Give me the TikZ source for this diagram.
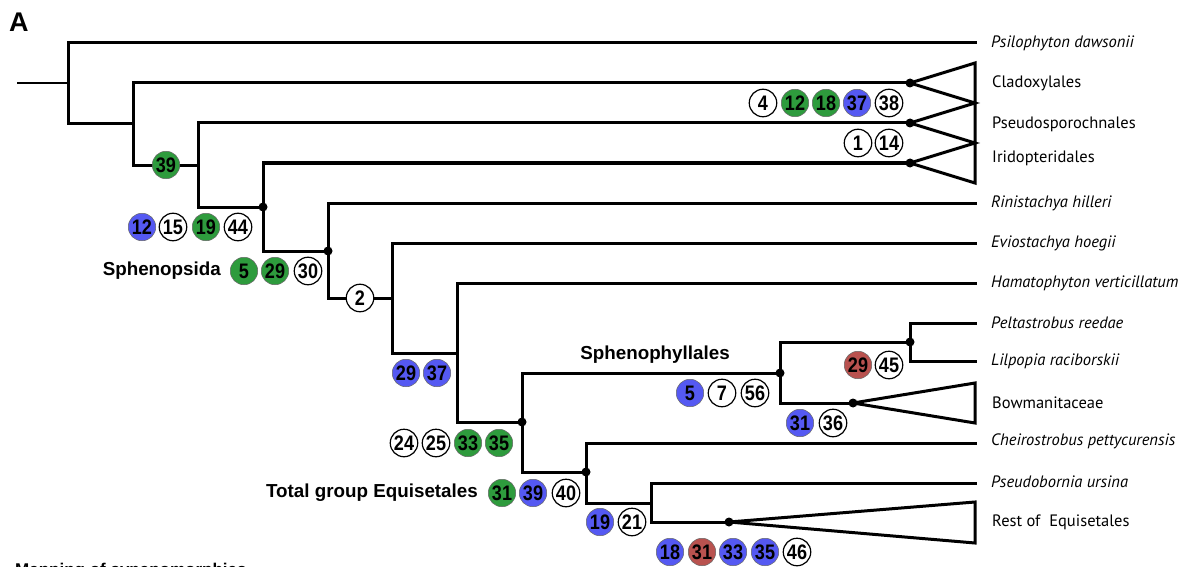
\documentclass[tikz,border=0pt]{standalone}
\usepackage{fontspec}
\setmainfont{PT Sans}
\newfontfamily\arialfont{Liberation Sans}
\definecolor{chgreen}{HTML}{2E9B3D}
\definecolor{chblue}{HTML}{5559F2}
\definecolor{chred}{HTML}{B9524F}
\begin{document}
\begin{tikzpicture}[x=1pt,y=-1pt,
  branch/.style={line width=3pt,line cap=rect},
  clade/.style={line width=3pt,line join=miter},
  joint/.style={circle,fill=black,inner sep=0pt,minimum size=9pt},
  taxon/.style={anchor=west,inner sep=0pt,font=\fontsize{16.5}{18}\selectfont\itshape},
  group/.style={anchor=west,inner sep=0pt,font=\fontsize{16.5}{18}\selectfont},
  cladename/.style={inner sep=0pt,font=\arialfont\bfseries\fontsize{18.8}{20}\selectfont},
  chr/.style={circle,draw=black,line width=1.2pt,minimum size=27.5pt,inner sep=0pt,
    font=\arialfont\bfseries\fontsize{21}{21}\selectfont},
  wt/.style={chr,fill=white},
  gr/.style={chr,fill=chgreen,draw=black!60,line width=0.5pt},
  bl/.style={chr,fill=chblue,draw=black!60,line width=0.5pt},
  rd/.style={chr,fill=chred,draw=black!60,line width=0.5pt}]
\newcommand{\chnum}[1]{\scalebox{0.86}[1]{#1}}
\useasboundingbox (0,0) rectangle (1202,567);
\clip (0,0) rectangle (1202,567);

% internal nodes and tips
\coordinate (stub) at (17,83);
\coordinate (n1) at (68,83);
\coordinate (n2) at (133,124);
\coordinate (n3) at (198,165);
\coordinate (n4) at (263,207);
\coordinate (n5) at (328,251);
\coordinate (n6) at (392,298);
\coordinate (n7) at (457,353);
\coordinate (n8) at (522,422);
\coordinate (n9) at (780,373);
\coordinate (n10) at (910,342);
\coordinate (n11) at (586,472);
\coordinate (n12) at (651,503);
\coordinate (psi) at (975,43);
\coordinate (clad) at (910,83);
\coordinate (pseu) at (910,123);
\coordinate (irid) at (910,163);
\coordinate (rini) at (975,203);
\coordinate (evio) at (975,243);
\coordinate (hama) at (975,283);
\coordinate (pelt) at (975,323);
\coordinate (lilp) at (975,361);
\coordinate (bowm) at (853,403);
\coordinate (chei) at (975,443);
\coordinate (psbo) at (975,483);
\coordinate (rest) at (729,522);

% collapsed clade corners
\coordinate (c1) at (975,63);
\coordinate (c2) at (975,103);
\coordinate (c3) at (975,143);
\coordinate (c4) at (975,183);
\coordinate (b1) at (975,383);
\coordinate (b2) at (975,423);
\coordinate (r1) at (975,502);
\coordinate (r2) at (975,543);

% branches
\draw[line width=2.2pt] (stub) -- (n1);
\draw[branch] (n1) |- (psi);
\draw[branch] (n1) |- (n2);
\draw[branch] (n2) |- (clad);
\draw[branch] (n2) |- (n3);
\draw[branch] (n3) |- (pseu);
\draw[branch] (n3) |- (n4);
\draw[branch] (n4) |- (irid);
\draw[branch] (n4) |- (n5);
\draw[branch] (n5) |- (rini);
\draw[branch] (n5) |- (n6);
\draw[branch] (n6) |- (evio);
\draw[branch] (n6) |- (n7);
\draw[branch] (n7) |- (hama);
\draw[branch] (n7) |- (n8);
\draw[branch] (n8) |- (n9);
\draw[branch] (n8) |- (n11);
\draw[branch] (n9) |- (n10);
\draw[branch] (n9) |- (bowm);
\draw[branch] (n10) |- (pelt);
\draw[branch] (n10) |- (lilp);
\draw[branch] (n11) |- (chei);
\draw[branch] (n11) |- (n12);
\draw[branch] (n12) |- (psbo);
\draw[branch] (n12) |- (rest);

% collapsed clades
\draw[clade] (c1) -- (clad) -- (c2) -- (pseu) -- (c3) -- (irid) -- (c4) -- cycle;
\draw[clade] (bowm) -- (b1) -- (b2) -- cycle;
\draw[clade] (rest) -- (r1) -- (r2) -- cycle;

% node dots
\foreach \p in {n4,n5,n8,n9,n10,n11,clad,pseu,irid,bowm,rest}
  \node[joint] at (\p) {};

% terminal names
\node[taxon] (lpsi) at (991,43) {Psilophyton dawsonii};
\node[group] (lclad) at (992,83) {Cladoxylales};
\node[group] (lpseu) at (992,124) {Pseudosporochnales};
\node[group] (lirid) at (992,158) {Iridopteridales};
\node[taxon] (lrini) at (991,203) {Rinistachya hilleri};
\node[taxon] (levio) at (991,243) {Eviostachya hoegii};
\node[taxon] (lhama) at (991,283) {Hamatophyton verticillatum};
\node[taxon] (lpelt) at (991,323) {Peltastrobus reedae};
\node[taxon] (llilp) at (991,361) {Lilpopia raciborskii};
\node[group] (lbowm) at (992,403) {Bowmanitaceae};
\node[taxon] (lchei) at (991,441) {Cheirostrobus pettycurensis};
\node[taxon] (lpsbo) at (991,482) {Pseudobornia ursina};
\node[group] (lrest) at (992,522) {Rest of\ \ Equisetales};

% clade names
\node[cladename,anchor=east] (sphenopsida) at (221,271) {Sphenopsida};
\node[cladename] (sphenophyllales) at (655,355) {Sphenophyllales};
\node[cladename,anchor=east] (equisetales) at (478,493) {Total group Equisetales};
\node[anchor=west,inner sep=0pt,font=\arialfont\bfseries\fontsize{27}{28}\selectfont] (panel) at (9,22) {A};
\node[anchor=base west,inner sep=0pt,font=\arialfont\bfseries\fontsize{17}{18}\selectfont] (mapping) at (15,575) {Mapping of synapomorphies};

% synapomorphies
\node[gr] (a39) at (166,165) {\chnum{39}};

\node[bl] (b12) at (142,227) {\chnum{12}};
\node[wt] (b15) at (173,227) {\chnum{15}};
\node[gr] (b19) at (206,227) {\chnum{19}};
\node[wt] (b44) at (238,227) {\chnum{44}};

\node[gr] (s5) at (244,271) {\chnum{5}};
\node[gr] (s29) at (275,271) {\chnum{29}};
\node[wt] (s30) at (308,271) {\chnum{30}};

\node[wt] (d2) at (360,298) {\chnum{2}};

\node[wt] (e4) at (763,103) {\chnum{4}};
\node[gr] (e12) at (795,103) {\chnum{12}};
\node[gr] (e18) at (826,103) {\chnum{18}};
\node[bl] (e37) at (857,103) {\chnum{37}};
\node[wt] (e38) at (889,103) {\chnum{38}};

\node[wt] (f1) at (858,143) {\chnum{1}};
\node[wt] (f14) at (889,143) {\chnum{14}};

\node[bl] (g29) at (406,373) {\chnum{29}};
\node[bl] (g37) at (437,373) {\chnum{37}};

\node[wt] (h24) at (404,443) {\chnum{24}};
\node[wt] (h25) at (436,443) {\chnum{25}};
\node[gr] (h33) at (468,443) {\chnum{33}};
\node[gr] (h35) at (499,443) {\chnum{35}};

\node[bl] (k5) at (690,393) {\chnum{5}};
\node[wt] (k7) at (722,393) {\chnum{7}};
\node[wt] (k56) at (755,393) {\chnum{56}};

\node[rd] (m29) at (858,365) {\chnum{29}};
\node[wt] (m45) at (889,365) {\chnum{45}};

\node[bl] (p31) at (800,423) {\chnum{31}};
\node[wt] (p36) at (833,423) {\chnum{36}};

\node[gr] (q31) at (502,493) {\chnum{31}};
\node[bl] (q39) at (533,493) {\chnum{39}};
\node[wt] (q40) at (566,493) {\chnum{40}};

\node[bl] (u19) at (600,522) {\chnum{19}};
\node[wt] (u21) at (632,522) {\chnum{21}};

\node[bl] (v18) at (670,552) {\chnum{18}};
\node[rd] (v31) at (702,552) {\chnum{31}};
\node[bl] (v33) at (733,552) {\chnum{33}};
\node[bl] (v35) at (765,552) {\chnum{35}};
\node[wt] (v46) at (797,552) {\chnum{46}};
\end{tikzpicture}
\end{document}
